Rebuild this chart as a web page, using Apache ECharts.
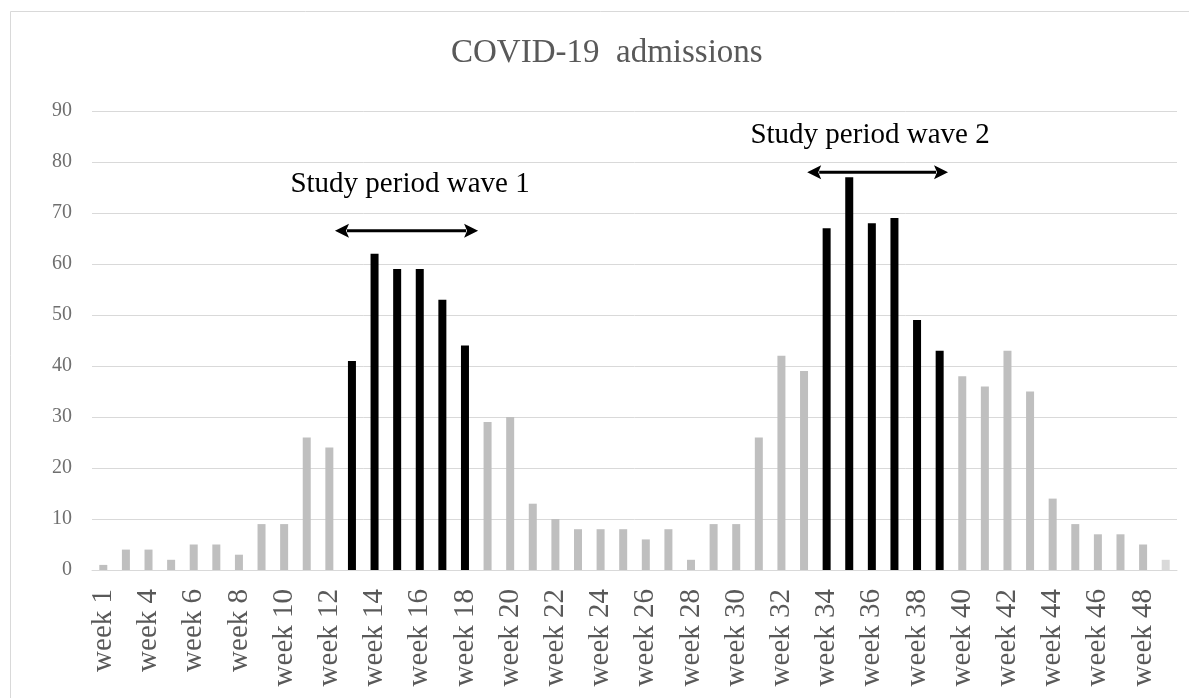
<!DOCTYPE html>
<html>
<head>
<meta charset="utf-8">
<script src="https://cdn.jsdelivr.net/npm/echarts@6/dist/echarts.min.js"></script>
<style>
html,body{margin:0;padding:0;background:#fff;}
#chart{width:1189px;height:698px;}
</style>
</head>
<body>
<div id="chart"></div>
<script>
// ---- data ----
var weeks = ['week 1','week 2','week 4','week 5','week 6','week 7','week 8','week 9','week 10','week 11',
  'week 12','week 13','week 14','week 15','week 16','week 17','week 18','week 19','week 20','week 21',
  'week 22','week 23','week 24','week 25','week 26','week 27','week 28','week 29','week 30','week 31',
  'week 32','week 33','week 34','week 35','week 36','week 37','week 38','week 39','week 40','week 41',
  'week 42','week 43','week 44','week 45','week 46','week 47','week 48','week 49'];
var admissions = [1,4,4,2,5,5,3,9,9,26,
  24,41,62,59,59,53,44,29,30,13,
  10,8,8,8,6,8,2,9,9,26,
  42,39,67,77,68,69,49,43,38,36,
  43,35,14,9,7,7,5,2];
var yTicks = [0,10,20,30,40,50,60,70,80,90];
var wave1 = ['week 13','week 18'];
var wave2 = ['week 34','week 39'];
var titleText = 'COVID-19  admissions';
var wave1Label = 'Study period wave 1';
var wave2Label = 'Study period wave 2';

var serif = '"Liberation Serif","Times New Roman",serif';
var inWave = function(i){
  var a1 = weeks.indexOf(wave1[0]), b1 = weeks.indexOf(wave1[1]);
  var a2 = weeks.indexOf(wave2[0]), b2 = weeks.indexOf(wave2[1]);
  return (i>=a1 && i<=b1) || (i>=a2 && i<=b2);
};

var chart = echarts.init(document.getElementById('chart'));
var option = {
  animation:false,
  backgroundColor:'#fff',
  title:{
    text:titleText,
    left:446, top:32,
    textStyle:{fontFamily:serif,fontSize:33,fontWeight:'normal',color:'#595959'}
  },
  grid:{left:92,right:12,top:111,bottom:128,outerBoundsMode:'none'},
  xAxis:{
    type:'category',
    data:weeks,
    axisLine:{lineStyle:{color:'#d9d9d9',width:1}},
    axisTick:{show:false},
    axisLabel:{interval:1,rotate:90,margin:19,fontFamily:serif,fontSize:29,color:'#595959'}
  },
  yAxis:{
    type:'value',
    min:yTicks[0], max:yTicks[yTicks.length-1], interval:yTicks[1]-yTicks[0],
    axisLine:{show:false},
    axisTick:{show:false},
    splitLine:{lineStyle:{color:'#d9d9d9',width:1}},
    axisLabel:{margin:20,fontFamily:serif,fontSize:20,color:'#6f6f6f'}
  },
  series:[{
    type:'bar',
    data:admissions,
    barWidth:8,
    itemStyle:{
      color:function(p){
        if(inWave(p.dataIndex)) return '#000000';
        if(p.dataIndex===weeks.length-1) return '#d9d9d9';
        return '#bfbfbf';
      }
    }
  }]
};
chart.setOption(option);

// annotations placed through the axes' own scales
function xAt(pos){
  var i = Math.floor(pos), f = pos - i;
  var p0 = chart.convertToPixel({xAxisIndex:0}, weeks[0]);
  var p1 = chart.convertToPixel({xAxisIndex:0}, weeks[1]);
  var band = p1 - p0;
  return chart.convertToPixel({xAxisIndex:0}, weeks[i]) + f*band;
}
function yAt(v){ return chart.convertToPixel({yAxisIndex:0}, v); }

var annotations = [
  {label:wave1Label, from:weeks.indexOf(wave1[0]) - 0.75, to:weeks.indexOf(wave1[1]) + 0.58, textPos:13.57, textVal:75.6, arrowVal:66.5},
  {label:wave2Label, from:weeks.indexOf(wave2[0]) - 0.86, to:weeks.indexOf(wave2[1]) + 0.37, textPos:33.92, textVal:85.2, arrowVal:78.0}
];

var g = [{
  type:'rect', silent:true, z:-1,
  shape:{x:10.5,y:11.5,width:1400,height:1000},
  style:{fill:'none',stroke:'#d9d9d9',lineWidth:1}
}];
annotations.forEach(function(a){
  var x1 = xAt(a.from), x2 = xAt(a.to), y = yAt(a.arrowVal);
  var head = 14, hw = 7;
  g.push({type:'line', silent:true, shape:{x1:x1+head-2,y1:y,x2:x2-head+2,y2:y}, style:{stroke:'#000',lineWidth:3}});
  g.push({type:'polygon', silent:true, shape:{points:[[x1,y],[x1+head,y-hw],[x1+head-3,y],[x1+head,y+hw]]}, style:{fill:'#000'}});
  g.push({type:'polygon', silent:true, shape:{points:[[x2,y],[x2-head,y-hw],[x2-head+3,y],[x2-head,y+hw]]}, style:{fill:'#000'}});
  g.push({type:'text', silent:true, x:xAt(a.textPos), y:yAt(a.textVal),
    style:{text:a.label, fontFamily:serif, fontSize:29, fill:'#000', align:'center', verticalAlign:'middle'}});
});
chart.setOption({graphic:g});
</script>
</body>
</html>
